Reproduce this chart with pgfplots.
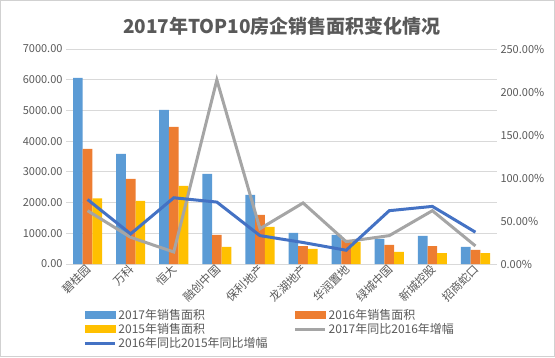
\documentclass[border=0pt]{standalone}
\usepackage{pgfplots}
\usepackage{pgfplotstable}
\pgfplotsset{compat=1.18}
\usepackage{fontspec}
\setmainfont{Noto Sans CJK SC}
\definecolor{cBlue}{HTML}{5B9BD5}
\definecolor{cOrange}{HTML}{ED7D31}
\definecolor{cYellow}{HTML}{FFC000}
\definecolor{cGray}{HTML}{A5A5A5}
\definecolor{cLine}{HTML}{4472C4}
\definecolor{txt}{HTML}{595959}
\definecolor{grid}{HTML}{D9D9D9}
\pgfplotstableread{
x a2017 a2016 a2015 g1716 g1615
0 6060 3746 2140 62 75
1 3583 2769 2052 31 35
2 5016 4462 2541 14 77
3 2932 945 554 214 72
4 2248 1596 1205 41 33
5 1010 586 489 71 25
6 945 782 717 26 16
7 815 619 391 33 62
8 912 586 358 62 67
9 554 456 358 21 37
}\data
\begin{document}
\begin{tikzpicture}[x=1bp,y=1bp]
\useasboundingbox (0,0) rectangle (555,357);
\draw[draw=black!18] (0.5,0.5) rectangle (554.5,356.5);
\node[font=\fontsize{19bp}{22bp}\selectfont\bfseries, text=txt] at (282,330.5) {2017年TOP10房企销售面积变化情况};
\begin{axis}[
  at={(66bp,93bp)}, anchor=south west, scale only axis,
  width=431bp, height=215bp,
  xmin=-0.5, xmax=9.5, ymin=0, ymax=7000,
  ytick={0,1000,...,7000},
  xtick={0,...,9},
  xticklabels={碧桂园,万科,恒大,融创中国,保利地产,龙湖地产,华润置地,绿城中国,新城控股,招商蛇口},
  xticklabel style={rotate=45, anchor=east, font=\fontsize{11.5bp}{13bp}\selectfont, text=txt, inner sep=1bp, yshift=-3bp},
  yticklabel style={font=\fontsize{11bp}{13bp}\selectfont, text=txt, /pgf/number format/.cd, fixed, fixed zerofill, precision=2, 1000 sep={}},
  /pgf/number format/assume math mode=true,
  major tick length=0pt,
  ymajorgrids, grid style={draw=grid, line width=0.8bp},
  axis line style={draw=none},
  axis x line*=bottom,
  x axis line style={draw=grid, line width=0.8bp},
  axis y line*=left,
  y axis line style={draw=none},
  ybar=0pt, bar width=9.7bp,
]
\addplot[fill=cBlue, draw=none] table[x=x,y=a2017]{\data};
\addplot[fill=cOrange, draw=none] table[x=x,y=a2016]{\data};
\addplot[fill=cYellow, draw=none] table[x=x,y=a2015]{\data};
\end{axis}
\begin{axis}[
  at={(66bp,93bp)}, anchor=south west, scale only axis,
  width=431bp, height=215bp,
  xmin=-0.5, xmax=9.5, ymin=0, ymax=250,
  ytick={0,50,...,250},
  xtick=\empty,
  axis y line*=right, axis x line=none,
  y axis line style={draw=none},
  major tick length=0pt,
  yticklabel={\pgfmathprintnumber[fixed,fixed zerofill,precision=2]{\tick}\%},
  yticklabel style={font=\fontsize{11bp}{13bp}\selectfont, text=txt},
  /pgf/number format/assume math mode=true,
  legend columns=2,
  legend style={draw=none, fill=none, at={(0.04,-0.2)}, anchor=north west,
    font=\fontsize{12bp}{13.5bp}\selectfont, text=txt,
    /tikz/every even column/.append style={column sep=24bp},
    row sep=-1.5bp, inner sep=0pt},
  legend cell align=left,
]
\addlegendimage{legend image code/.code={\fill[cBlue] (0bp,-3.5bp) rectangle (30bp,3.5bp);}}
\addlegendentry{2017年销售面积}
\addlegendimage{legend image code/.code={\fill[cOrange] (0bp,-3.5bp) rectangle (30bp,3.5bp);}}
\addlegendentry{2016年销售面积}
\addlegendimage{legend image code/.code={\fill[cYellow] (0bp,-3.5bp) rectangle (30bp,3.5bp);}}
\addlegendentry{2015年销售面积}
\addplot[cGray, line width=3bp, mark=none, legend image code/.code={\draw[cGray, line width=3bp] (0bp,0bp) -- (30bp,0bp);}] table[x=x,y=g1716]{\data};
\addlegendentry{2017年同比2016年增幅}
\addplot[cLine, line width=3bp, mark=none, legend image code/.code={\draw[cLine, line width=3bp] (0bp,0bp) -- (30bp,0bp);}] table[x=x,y=g1615]{\data};
\addlegendentry{2016年同比2015年同比增幅}
\end{axis}
\end{tikzpicture}
\end{document}
